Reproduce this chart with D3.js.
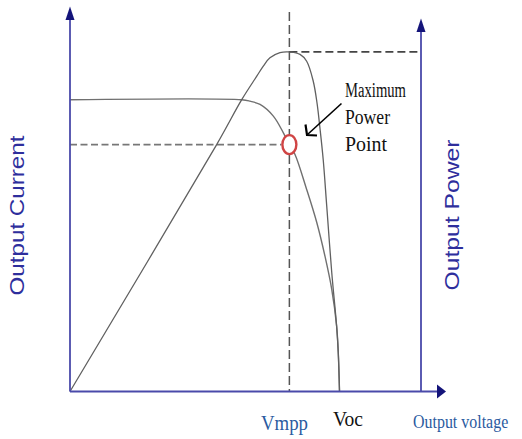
<!DOCTYPE html>
<html>
<head>
<meta charset="utf-8">
<script src="https://cdn.jsdelivr.net/npm/d3@7"></script>
<style>
  html, body { margin: 0; padding: 0; background: #fff; }
  svg { display: block; }
</style>
</head>
<body>
<svg id="chart" width="522" height="439"></svg>
<script>
// ---------- Data ----------
// Voltage (V) and current (A) along the I-V curve
const ivVoltage = [0, 13.7, 14.36, 15.16, 16.22, 17.01, 17.5, 17.95, 18.88, 19.68, 20.34, 20.88, 21.27, 21.40, 21.5];
const ivCurrent = [8.0, 8.0, 7.96, 7.87, 7.55, 7.1, 6.77, 6.5, 5.54, 4.64, 3.71, 2.80, 1.79, 1.07, 0];
// Voltage (V) and power (W) along the P-V curve
const pvVoltage = [0, 11.70, 13.70, 14.90, 15.42, 15.95, 16.75, 17.39, 18.35, 18.88, 19.40, 19.70, 19.94, 20.20, 20.48, 20.88, 21.27, 21.40, 21.5];
const pvPower   = [0, 86.3, 102.0, 110.2, 113.7, 116.6, 118.4, 118.7, 117.8, 115.4, 108.5, 101.0, 92.0, 81.0, 64.8, 41.6, 22.8, 13.6, 0];
// Marked points
const mppVoltage = 17.5, mppCurrent = 6.77, mppPower = 118.7;
const vocVoltage = 21.5;
// Text labels
const tickLabels = ["Vmpp", "Voc", "Output voltage"];
const axisTitles = ["Output Current", "Output Power"];
const annotationLines = ["Maximum", "Power", "Point"];

// ---------- Scales ----------
const x = d3.scaleLinear().domain([0, 28]).range([70, 421]);
const yI = d3.scaleLinear().domain([0, 10.2]).range([391.5, 19.5]);
const yP = d3.scaleLinear().domain([0, 130]).range([391.5, 19.5]);

const svg = d3.select("#chart");
const axisLine = "#4a4aaa";
const arrowFill = "#14147a";

// ---------- Dashed guide lines ----------
svg.append("line")
  .attr("x1", x(mppVoltage)).attr("x2", x(mppVoltage))
  .attr("y1", 12).attr("y2", yI(0))
  .attr("stroke", "#555").attr("stroke-width", 1.5)
  .attr("stroke-dasharray", "9,4");
svg.append("line")
  .attr("x1", x(0)).attr("x2", x(mppVoltage) - 8)
  .attr("y1", yI(mppCurrent)).attr("y2", yI(mppCurrent))
  .attr("stroke", "#777").attr("stroke-width", 1.6)
  .attr("stroke-dasharray", "7,3.5");
svg.append("line")
  .attr("x1", x(mppVoltage)).attr("x2", x(28))
  .attr("y1", yP(mppPower)).attr("y2", yP(mppPower))
  .attr("stroke", "#444").attr("stroke-width", 1.8)
  .attr("stroke-dasharray", "8,4");

// ---------- Curves ----------
const ivData = ivVoltage.map((v, i) => [v, ivCurrent[i]]);
const pvData = pvVoltage.map((v, i) => [v, pvPower[i]]);

svg.append("path")
  .datum(ivData)
  .attr("fill", "none").attr("stroke", "#707070").attr("stroke-width", 1.4)
  .attr("d", d3.line().x(d => x(d[0])).y(d => yI(d[1])).curve(d3.curveCatmullRom.alpha(0.5)));

svg.append("path")
  .datum(pvData)
  .attr("fill", "none").attr("stroke", "#606060").attr("stroke-width", 1.3)
  .attr("d", d3.line().x(d => x(d[0])).y(d => yP(d[1])).curve(d3.curveCatmullRom.alpha(0.5)));

// ---------- Axes ----------
svg.append("line").attr("x1", x(0)).attr("x2", x(0)).attr("y1", 19).attr("y2", yI(0))
  .attr("stroke", axisLine).attr("stroke-width", 1.8);
svg.append("line").attr("x1", x(28)).attr("x2", x(28)).attr("y1", 31).attr("y2", yI(0))
  .attr("stroke", axisLine).attr("stroke-width", 1.8);
svg.append("line").attr("x1", x(0)).attr("x2", 438).attr("y1", yI(0)).attr("y2", yI(0))
  .attr("stroke", axisLine).attr("stroke-width", 2);

// arrowheads
svg.append("path").attr("fill", arrowFill)
  .attr("d", `M${x(0)},6.5 L${x(0) - 4.5},20 L${x(0) + 4.5},20 Z`);
svg.append("path").attr("fill", arrowFill)
  .attr("d", `M${x(28)},18.5 L${x(28) - 4.5},32 L${x(28) + 4.5},32 Z`);
svg.append("path").attr("fill", arrowFill)
  .attr("d", `M446,${yI(0)} L437,${yI(0) - 7} L437,${yI(0) + 7} Z`);

// ---------- MPP marker ----------
svg.append("ellipse")
  .attr("cx", x(mppVoltage)).attr("cy", yI(mppCurrent))
  .attr("rx", 7).attr("ry", 9.5)
  .attr("fill", "#fff").attr("stroke", "#d04444").attr("stroke-width", 2.4);

// ---------- Annotation ----------
svg.append("line")
  .attr("x1", 341.5).attr("y1", 103.5).attr("x2", 307.5).attr("y2", 134.5)
  .attr("stroke", "#000").attr("stroke-width", 1.6);
svg.append("path")
  .attr("d", "M305.5,124.5 L307,135 L317,135.5")
  .attr("fill", "none").attr("stroke", "#000").attr("stroke-width", 2.2);

const annLengths = [61, 45, 42];
annotationLines.forEach((t, i) => {
  svg.append("text")
    .attr("x", 345).attr("y", 97 + i * 27)
    .attr("font-family", "'Liberation Serif', 'Times New Roman', serif")
    .attr("font-size", 20)
    .attr("fill", "#111")
    .attr("textLength", annLengths[i]).attr("lengthAdjust", "spacingAndGlyphs")
    .text(t);
});

// ---------- Axis titles ----------
svg.append("text")
  .attr("transform", `translate(24,215.5) rotate(-90)`)
  .attr("text-anchor", "middle")
  .attr("font-family", "'Liberation Sans', Arial, sans-serif")
  .attr("font-size", 20)
  .attr("fill", "#2e2e9c")
  .attr("textLength", 160).attr("lengthAdjust", "spacingAndGlyphs")
  .text(axisTitles[0]);
svg.append("text")
  .attr("transform", `translate(459,215) rotate(-90)`)
  .attr("text-anchor", "middle")
  .attr("font-family", "'Liberation Sans', Arial, sans-serif")
  .attr("font-size", 20)
  .attr("fill", "#2e2e9c")
  .attr("textLength", 151).attr("lengthAdjust", "spacingAndGlyphs")
  .text(axisTitles[1]);

// ---------- Voltage labels ----------
svg.append("text")
  .attr("x", 261).attr("y", 430)
  .attr("font-family", "'Liberation Serif', 'Times New Roman', serif")
  .attr("font-size", 21).attr("fill", "#2a5aa0")
  .attr("textLength", 47).attr("lengthAdjust", "spacingAndGlyphs")
  .text(tickLabels[0]);
svg.append("text")
  .attr("x", 333).attr("y", 426)
  .attr("font-family", "'Liberation Serif', 'Times New Roman', serif")
  .attr("font-size", 21).attr("fill", "#111")
  .attr("textLength", 30).attr("lengthAdjust", "spacingAndGlyphs")
  .text(tickLabels[1]);
svg.append("text")
  .attr("transform", "translate(413,428) scale(0.84,1)")
  .attr("font-family", "'Liberation Serif', 'Times New Roman', serif")
  .attr("font-size", 19).attr("fill", "#2a5aa0")
  .text(tickLabels[2]);
</script>
</body>
</html>
